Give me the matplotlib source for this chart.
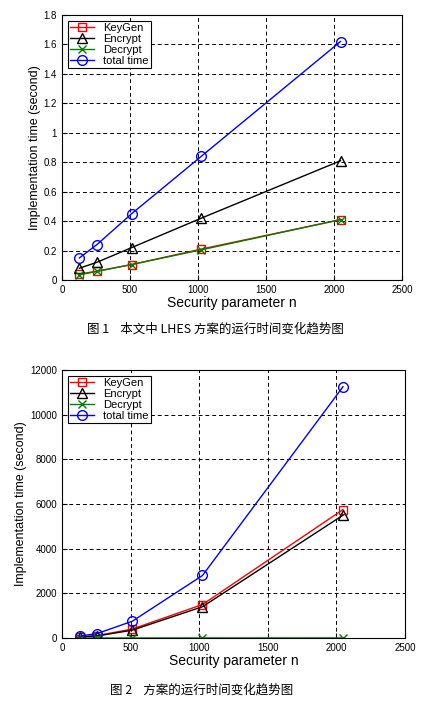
import matplotlib.pyplot as plt

plt.rcParams['font.family'] = ['Liberation Sans', 'Noto Sans CJK SC', 'DejaVu Sans']

n = [128, 256, 512, 1024, 2048]

keygen1  = [0.04, 0.06, 0.105, 0.21, 0.41]
encrypt1 = [0.08, 0.12, 0.22, 0.42, 0.81]
decrypt1 = [0.035, 0.058, 0.105, 0.205, 0.41]
total1   = [0.15, 0.24, 0.45, 0.84, 1.62]

keygen2  = [50, 110, 400, 1500, 5750]
encrypt2 = [40, 90, 350, 1400, 5500]
decrypt2 = [1, 1, 2, 3, 5]
total2   = [80, 200, 750, 2800, 11250]

W, H = 430, 702
fig = plt.figure(figsize=(W / 100, H / 100), dpi=100)

def panel(rect, k, e, d, t, ylim, yticks, ylabels):
    ax = fig.add_axes(rect)
    ax.plot(n, k, color='red', marker='s', mfc='none', ms=6, lw=1, label='KeyGen')
    ax.plot(n, e, color='black', marker='^', mfc='none', ms=7, lw=1, label='Encrypt')
    ax.plot(n, d, color='green', marker='x', ms=6, lw=1, label='Decrypt')
    ax.plot(n, t, color='blue', marker='o', mfc='none', ms=7, lw=1, label='total time')
    ax.set_xlim(0, 2500)
    ax.set_ylim(*ylim)
    ax.set_xticks(range(0, 2501, 500))
    ax.set_yticks(yticks)
    ax.set_yticklabels(ylabels)
    ax.tick_params(labelsize=7, direction='in')
    ax.grid(True, color='black', linestyle='--', linewidth=0.7, dashes=(4, 3))
    ax.set_xlabel('Security parameter n', fontsize=10, labelpad=1)
    ax.set_ylabel('Implementation time (second)', fontsize=9, labelpad=2)
    leg = ax.legend(loc='upper left', fontsize=8, handlelength=2.2, borderpad=0.2,
                    labelspacing=0.1, fancybox=False, edgecolor='black', framealpha=1)
    leg.get_frame().set_linewidth(0.8)
    return ax

yt1 = [0, 0.2, 0.4, 0.6, 0.8, 1, 1.2, 1.4, 1.6, 1.8]
panel([62 / W, 1 - 280 / H, 340 / W, 265 / H], keygen1, encrypt1, decrypt1, total1,
      (0, 1.8), yt1, ['0', '0.2', '0.4', '0.6', '0.8', '1', '1.2', '1.4', '1.6', '1.8'])

yt2 = list(range(0, 12001, 2000))
panel([62 / W, 1 - 638 / H, 343 / W, 268 / H], keygen2, encrypt2, decrypt2, total2,
      (0, 12000), yt2, [str(v) for v in yt2])

fig.text(0.5, 1 - 329 / H, '图 1    本文中 LHES 方案的运行时间变化趋势图', ha='center', va='center',
         fontsize=9, family=['Noto Sans CJK SC', 'DejaVu Sans'])
fig.text(0.47, 1 - 690 / H, '图 2    方案的运行时间变化趋势图', ha='center', va='center',
         fontsize=9, family=['Noto Sans CJK SC', 'DejaVu Sans'])

fig.savefig('out.png', dpi=100)
